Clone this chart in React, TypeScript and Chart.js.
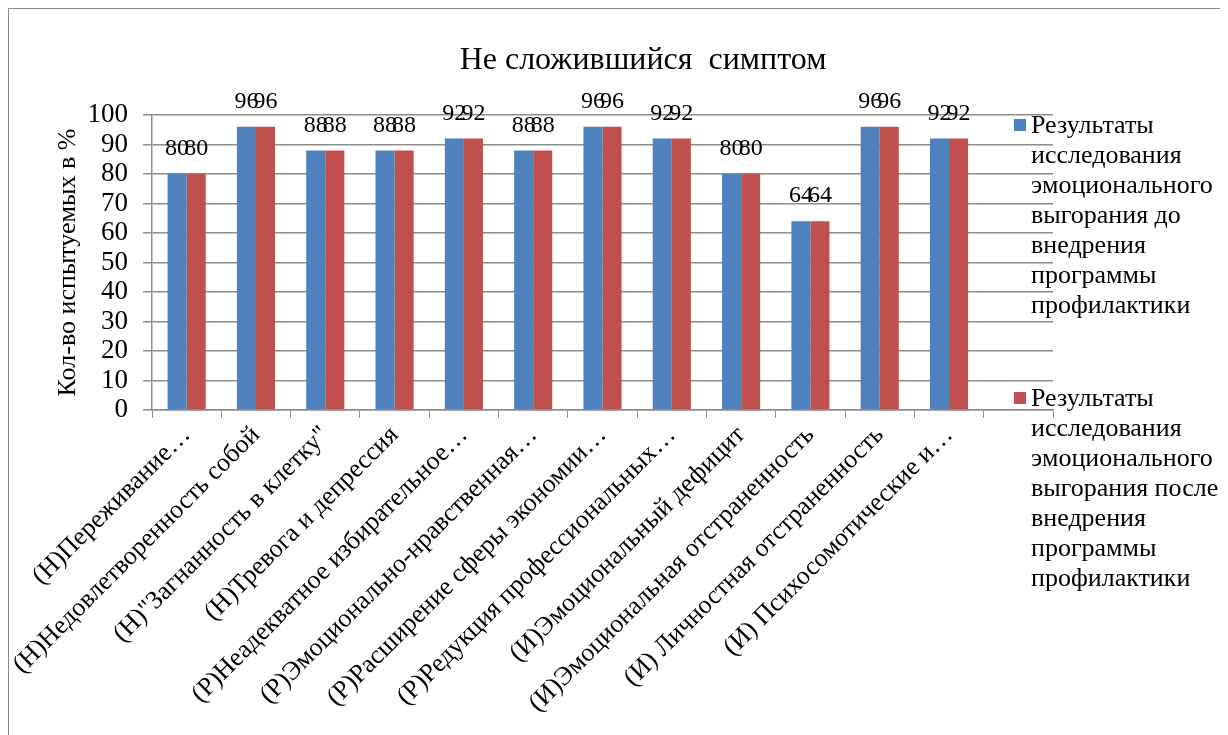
import React, { useEffect, useRef } from "react";
import { Chart, registerables } from "chart.js";

Chart.register(...registerables);

const chartTitle = "Не сложившийся  симптом";
const yAxisTitle = "Кол-во испытуемых в %";
const categories = [
  "(Н)Переживание…",
  "(Н)Недовлетворенность собой",
  "(Н)\"Загнанность в клетку\"",
  "(Н)Тревога и депрессия",
  "(Р)Неадекватное избирательное…",
  "(Р)Эмоционально-нравственная…",
  "(Р)Расширение сферы экономии…",
  "(Р)Редукция профессиональных…",
  "(И)Эмоциональный дефицит",
  "(И)Эмоциональная отстраненность",
  "(И) Личностная отстраненность",
  "(И) Психосомотические и…",
  "",
];
const seriesBefore = [80, 96, 88, 88, 92, 88, 96, 92, 80, 64, 96, 92, null];
const seriesAfter = [80, 96, 88, 88, 92, 88, 96, 92, 80, 64, 96, 92, null];
const seriesNames = [
  "Результаты\nисследования\nэмоционального\nвыгорания до\nвнедрения\nпрограммы\nпрофилактики",
  "Результаты\nисследования\nэмоционального\nвыгорания после\nвнедрения\nпрограммы\nпрофилактики",
];
const seriesColors = ["#4F81BD", "#C0504D"];
const yMin = 0;
const yMax = 100;
const yStep = 10;

const FONT = "\"Liberation Serif\", \"Times New Roman\", Tinos, FreeSerif";
const GRID = "#8c8c8c";

const dataLabelPlugin = {
  id: "dataLabels",
  afterDatasetsDraw(chart: any) {
    const ctx = chart.ctx;
    ctx.save();
    ctx.font = `24px ${FONT}`;
    ctx.fillStyle = "#000";
    ctx.textAlign = "center";
    ctx.textBaseline = "middle";
    chart.data.datasets.forEach((ds: any, di: number) => {
      const meta = chart.getDatasetMeta(di);
      meta.data.forEach((el: any, i: number) => {
        const v = ds.data[i];
        if (v === null || v === undefined) return;
        ctx.fillText(String(v), el.x, el.y - 25);
      });
    });
    ctx.restore();
  },
};

export default function App() {
  const canvasRef = useRef<HTMLCanvasElement | null>(null);

  useEffect(() => {
    document.body.style.overflow = "hidden";
    const canvas = canvasRef.current;
    if (!canvas) return;
    const chart = new Chart(canvas, {
      type: "bar",
      data: {
        labels: categories,
        datasets: [
          {
            label: seriesNames[0],
            data: seriesBefore,
            backgroundColor: seriesColors[0],
            categoryPercentage: 0.55,
            barPercentage: 1,
          },
          {
            label: seriesNames[1],
            data: seriesAfter,
            backgroundColor: seriesColors[1],
            categoryPercentage: 0.55,
            barPercentage: 1,
          },
        ],
      },
      options: {
        responsive: false,
        animation: false,
        layout: { padding: { left: 40, top: 106, right: 171, bottom: 0 } },
        plugins: {
          legend: { display: false },
          title: { display: false },
          tooltip: { enabled: false },
        },
        scales: {
          x: {
            grid: {
              display: true,
              drawOnChartArea: false,
              drawTicks: true,
              tickLength: 8,
              color: GRID,
              offset: true,
            },
            border: { display: true, color: GRID, width: 1.5 },
            ticks: {
              autoSkip: false,
              maxRotation: 45,
              minRotation: 45,
              color: "#000",
              font: { family: FONT, size: 26 },
              padding: 2,
            },
            afterFit: (scale: any) => {
              scale.height = 337;
            },
          },
          y: {
            min: yMin,
            max: yMax,
            grid: {
              color: GRID,
              lineWidth: 1.5,
              drawTicks: true,
              tickLength: 9,
            },
            border: { display: true, color: GRID, width: 1.5 },
            ticks: {
              stepSize: yStep,
              autoSkip: false,
              color: "#000",
              font: { family: FONT, size: 27, lineHeight: 1 },
              padding: 15,
            },
            title: {
              display: true,
              text: yAxisTitle,
              color: "#000",
              font: { family: FONT, size: 26 },
            },
            afterFit: (scale: any) => {
              scale.width = 103;
            },
          },
        },
      },
      plugins: [dataLabelPlugin],
    });
    let alive = true;
    const fontsApi = (document as any).fonts;
    if (fontsApi && fontsApi.load) {
      Promise.all([
        fontsApi.load(`24px "Liberation Serif"`),
        fontsApi.load(`24px "Times New Roman"`),
      ])
        .catch(() => null)
        .then(() => {
          if (alive) chart.update();
        });
    }
    return () => {
      alive = false;
      chart.destroy();
    };
  }, []);

  const legendTops = [110, 383];

  return (
    <div
      style={{
        position: "relative",
        width: 1215,
        height: 738,
        border: "1px solid #8a8a8a",
        fontFamily: FONT,
      }}
    >
      <canvas ref={canvasRef} width={1215} height={738} style={{ display: "block" }} />
      <div
        style={{
          position: "absolute",
          left: 643 - 9,
          top: 58 - 9,
          transform: "translate(-50%, -50%)",
          whiteSpace: "pre",
          fontSize: 32,
          color: "#000",
        }}
      >
        {chartTitle}
      </div>
      {seriesNames.map((name, i) => (
        <div key={i} style={{ position: "absolute", left: 1014 - 9, top: legendTops[i] - 9 }}>
          <div
            style={{
              position: "absolute",
              left: 0,
              top: 9,
              width: 12,
              height: 12,
              background: seriesColors[i],
            }}
          />
          <div
            style={{
              position: "absolute",
              left: 17,
              top: 0,
              whiteSpace: "pre",
              fontSize: 26,
              lineHeight: "30px",
              color: "#000",
            }}
          >
            {name}
          </div>
        </div>
      ))}
    </div>
  );
}
